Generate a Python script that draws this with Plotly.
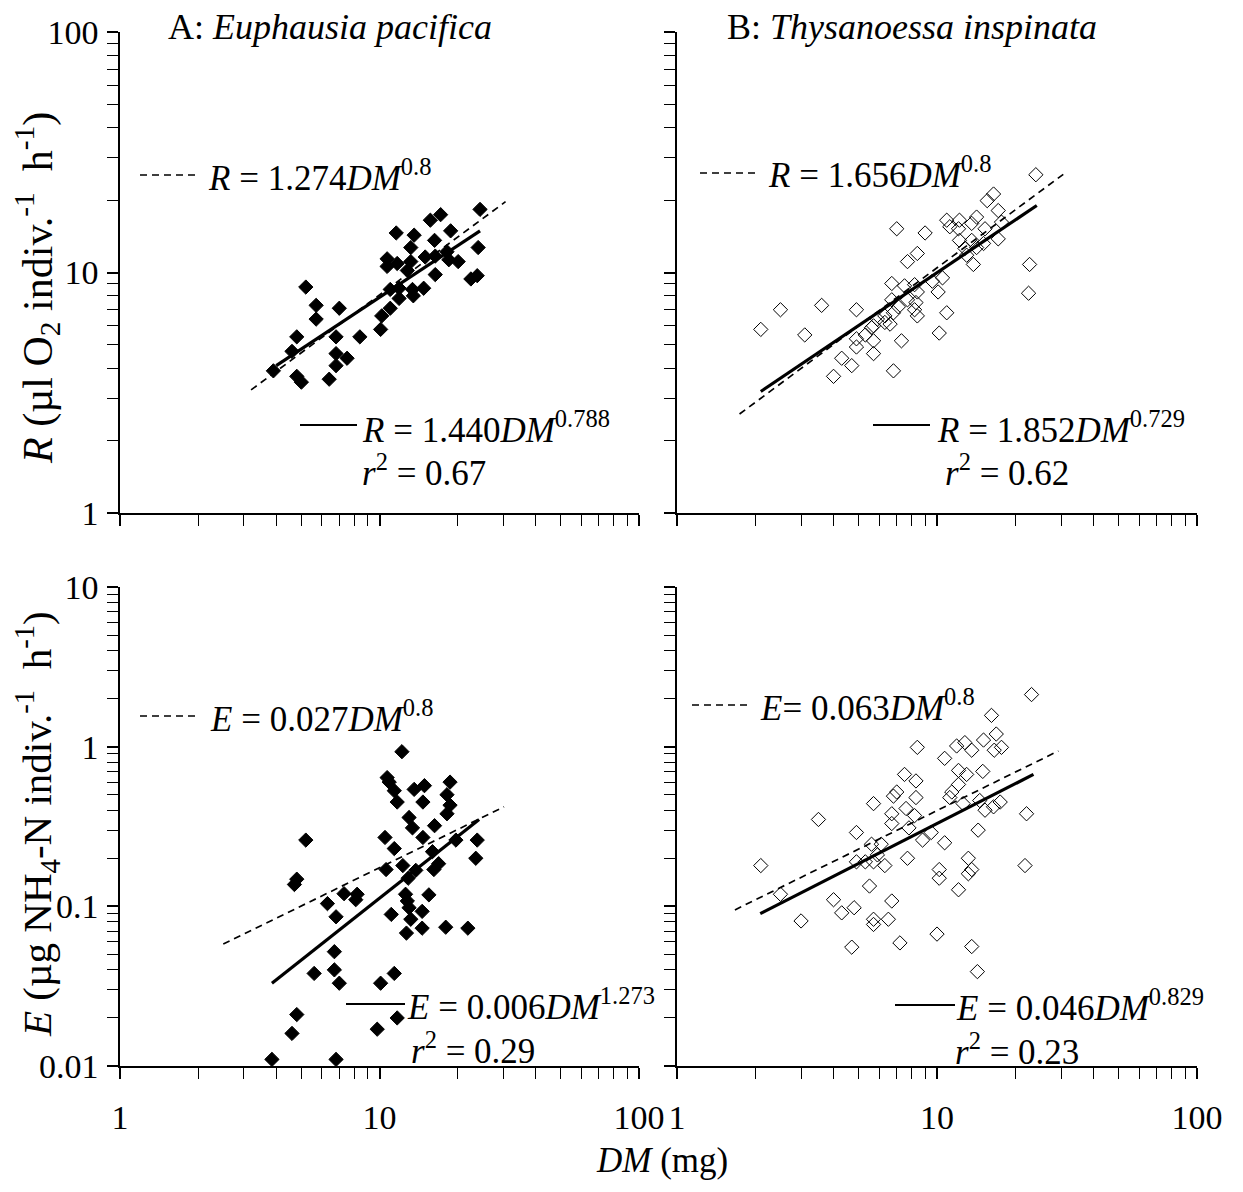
import plotly.graph_objects as go

# the page adds an 8px body margin, so the figure is 16px smaller than the window
PAGE_W, PAGE_H, OFF = 1243, 1192, 8
W, H = PAGE_W - 2 * OFF, PAGE_H - 2 * OFF

# --- data ---
# A: Euphausia pacifica, respiration
ep_r_dm = [24.4, 17.2, 15.7, 11.6, 13.6, 16.3, 18.8, 13.2, 24.0, 10.7, 10.7, 11.7, 13.2, 15.0, 16.4, 18.2,
           18.5, 20.1, 12.8, 16.4, 22.5, 23.8, 5.2, 11.0, 11.9, 13.4, 14.8, 13.5, 11.9, 5.7, 7.0, 11.0,
           10.2, 5.7, 10.1, 4.8, 6.8, 8.4, 4.6, 6.8, 7.5, 6.8, 3.9, 4.8, 5.0, 6.4]
ep_r = [18.3, 17.4, 16.5, 14.6, 14.3, 13.6, 14.9, 12.7, 12.7, 11.4, 10.6, 10.9, 11.1, 11.6, 11.7, 12.2,
        11.3, 11.1, 10.2, 9.8, 9.4, 9.7, 8.7, 8.5, 8.6, 8.5, 8.6, 8.0, 7.8, 7.3, 7.1, 7.1,
        6.6, 6.4, 5.8, 5.4, 5.4, 5.4, 4.7, 4.6, 4.4, 4.1, 3.9, 3.7, 3.5, 3.6]

# B: Thysanoessa inspinata, respiration
ti_r_dm = [24.0, 16.5, 15.6, 17.2, 17.7, 14.2, 12.2, 10.9, 11.2, 12.1, 13.6, 15.3, 7.0, 9.0, 17.2, 12.2,
           13.6, 15.1, 12.8, 14.2, 13.0, 8.4, 7.7, 13.8, 22.7, 22.5, 6.7, 7.5, 8.2, 9.6, 10.5, 10.1,
           8.4, 7.7, 8.3, 8.2, 8.4, 10.9, 7.1, 6.7, 6.8, 6.3, 5.9, 6.3, 5.7, 6.6, 5.6, 4.9,
           3.6, 2.5, 2.1, 3.1, 4.9, 5.3, 5.7, 4.9, 7.3, 10.2, 5.7, 4.3, 4.7, 4.0, 6.8]
ti_r = [25.5, 21.2, 19.9, 18.1, 16.2, 17.0, 16.5, 16.5, 15.5, 15.2, 16.0, 15.2, 15.2, 14.6, 13.8, 13.6,
        13.6, 13.2, 12.6, 12.7, 11.8, 12.0, 11.1, 10.8, 10.8, 8.2, 9.0, 8.8, 8.9, 9.2, 9.5, 8.3,
        8.3, 7.7, 7.5, 7.0, 6.6, 6.8, 7.2, 7.7, 6.8, 6.6, 6.4, 6.2, 6.0, 6.1, 5.9, 7.0,
        7.3, 7.0, 5.8, 5.5, 5.3, 5.5, 5.2, 4.9, 5.2, 5.6, 4.6, 4.4, 4.1, 3.7, 3.9]

# A: Euphausia pacifica, excretion
ep_e_dm = [12.2, 10.7, 10.9, 11.4, 13.6, 14.9, 18.7, 18.2, 11.7, 14.7, 18.7, 18.2, 13.0, 13.4, 16.3, 5.2,
           10.5, 14.7, 19.7, 23.8, 11.4, 16.0, 23.5, 12.3, 10.6, 16.9, 16.2, 13.8, 12.9, 4.8, 4.7, 7.3,
           8.2, 8.1, 6.3, 12.6, 15.5, 12.8, 6.8, 11.1, 13.0, 14.6, 13.2, 12.7, 14.6, 18.0, 21.9, 6.7,
           5.6, 6.7, 7.0, 11.4, 10.1, 4.8, 4.6, 9.8, 11.7, 3.85, 6.8]
ep_e = [0.93, 0.64, 0.60, 0.53, 0.54, 0.57, 0.60, 0.50, 0.45, 0.45, 0.43, 0.38, 0.36, 0.31, 0.32, 0.26,
        0.27, 0.27, 0.26, 0.26, 0.23, 0.22, 0.20, 0.18, 0.17, 0.185, 0.17, 0.168, 0.15, 0.148, 0.137, 0.12,
        0.119, 0.11, 0.104, 0.119, 0.118, 0.108, 0.086, 0.089, 0.098, 0.093, 0.083, 0.068, 0.073, 0.074, 0.073, 0.052,
        0.038, 0.040, 0.033, 0.038, 0.033, 0.021, 0.016, 0.017, 0.020, 0.011, 0.011]

# B: Thysanoessa inspinata, excretion
ti_e_dm = [23.1, 16.2, 16.9, 15.1, 11.9, 12.8, 13.6, 16.6, 17.7, 8.4, 10.7, 12.1, 13.0, 15.0, 7.5, 8.3,
           12.1, 11.4, 11.2, 7.0, 6.8, 8.3, 5.7, 12.6, 14.6, 17.5, 16.5, 15.3, 7.6, 6.7, 8.2, 6.7,
           7.8, 22.1, 3.5, 14.4, 9.5, 8.8, 10.7, 4.9, 5.6, 6.1, 5.9, 4.9, 5.3, 5.7, 6.3, 7.7,
           13.2, 13.6, 13.2, 21.8, 2.1, 10.2, 10.2, 5.5, 12.1, 2.5, 4.0, 4.3, 4.8, 6.7, 3.0,
           5.7, 5.7, 6.5, 4.7, 7.2, 10.0, 13.6, 14.3]
ti_e = [2.12, 1.57, 1.20, 1.10, 1.01, 1.06, 0.95, 0.95, 0.99, 0.99, 0.845, 0.71, 0.67, 0.70, 0.67, 0.61,
        0.58, 0.52, 0.48, 0.52, 0.49, 0.48, 0.44, 0.44, 0.46, 0.45, 0.42, 0.40, 0.41, 0.38, 0.37, 0.33,
        0.31, 0.38, 0.35, 0.30, 0.29, 0.26, 0.25, 0.29, 0.245, 0.245, 0.21, 0.19, 0.19, 0.19, 0.18, 0.20,
        0.20, 0.17, 0.16, 0.18, 0.18, 0.17, 0.15, 0.134, 0.127, 0.119, 0.11, 0.091, 0.098, 0.108, 0.081,
        0.083, 0.077, 0.083, 0.0555, 0.059, 0.067, 0.056, 0.039]

# fitted lines (end points as drawn): dashed = common slope 0.8, solid = own fit
ep_r_dash_x, ep_r_dash_y = [3.2, 30.6], [3.25, 19.7]
ep_r_fit_x, ep_r_fit_y = [4.0, 24.4], [4.1, 14.9]
ti_r_dash_x, ti_r_dash_y = [1.74, 30.6], [2.58, 25.6]
ti_r_fit_x, ti_r_fit_y = [2.1, 24.2], [3.2, 19.0]
ep_e_dash_x, ep_e_dash_y = [2.5, 30.2], [0.058, 0.42]
ep_e_fit_x, ep_e_fit_y = [3.85, 24.2], [0.033, 0.35]
ti_e_dash_x, ti_e_dash_y = [1.67, 29.3], [0.095, 0.94]
ti_e_fit_x, ti_e_fit_y = [2.09, 23.5], [0.09, 0.67]

FONT = "Liberation Serif"


def px(x):
    # page pixel -> paper fraction
    return (x - OFF) / W


def py(y):
    return 1 - (y - OFF) / H


fig = go.Figure()

panels = [
    ("x", "y", ep_r_dm, ep_r, "diamond", ep_r_dash_x, ep_r_dash_y, ep_r_fit_x, ep_r_fit_y),
    ("x2", "y2", ti_r_dm, ti_r, "diamond-open", ti_r_dash_x, ti_r_dash_y, ti_r_fit_x, ti_r_fit_y),
    ("x3", "y3", ep_e_dm, ep_e, "diamond", ep_e_dash_x, ep_e_dash_y, ep_e_fit_x, ep_e_fit_y),
    ("x4", "y4", ti_e_dm, ti_e, "diamond-open", ti_e_dash_x, ti_e_dash_y, ti_e_fit_x, ti_e_fit_y),
]

for xa, ya, dm, val, sym, dx, dy, fx, fy in panels:
    fig.add_trace(go.Scatter(x=dx, y=dy, mode="lines", xaxis=xa, yaxis=ya,
                             line=dict(color="black", width=1.7, dash="7px,5px")))
    fig.add_trace(go.Scatter(x=dm, y=val, mode="markers", xaxis=xa, yaxis=ya,
                             marker=dict(symbol=sym, size=11, color="black",
                                         line=dict(color="black", width=1))))
    fig.add_trace(go.Scatter(x=fx, y=fy, mode="lines", xaxis=xa, yaxis=ya,
                             line=dict(color="black", width=3.2)))

minor_vals = [2, 3, 4, 5, 6, 7, 8, 9, 20, 30, 40, 50, 60, 70, 80, 90]
minor_small = [0.02, 0.03, 0.04, 0.05, 0.06, 0.07, 0.08, 0.09,
               0.2, 0.3, 0.4, 0.5, 0.6, 0.7, 0.8, 0.9] + minor_vals[:8]


def axis(domain, anchor, rng, tickvals, minor, labels, **kw):
    return dict(type="log", domain=domain, anchor=anchor, range=rng,
                showline=True, linecolor="black", linewidth=1.5, mirror=False,
                showgrid=False, zeroline=False, automargin=False,
                ticks="outside", ticklen=11, tickwidth=1.5, tickcolor="black",
                tickvals=tickvals, ticktext=[str(v) for v in tickvals],
                showticklabels=labels,
                tickfont=dict(family=FONT, size=34, color="black"),
                minor=dict(tickvals=minor, ticks="outside", ticklen=11, tickwidth=1.2,
                           tickcolor="black", showgrid=False),
                **kw)


xl = [px(120), px(639)]
xr = [px(677), px(1197)]
yt = [py(513), py(32)]
yb = [py(1066), py(587)]

fig.update_layout(
    width=W, height=H, showlegend=False,
    paper_bgcolor="white", plot_bgcolor="white",
    margin=dict(l=0, r=0, t=0, b=0, pad=0, autoexpand=False),
    xaxis=axis(xl, "y", [0, 2], [1, 10, 100], minor_vals, False),
    yaxis=axis(yt, "x", [0, 2], [1, 10, 100], minor_vals, True, ticklabelstandoff=2),
    xaxis2=axis(xr, "y2", [0, 2], [1, 10, 100], minor_vals, False),
    yaxis2=axis(yt, "x2", [0, 2], [1, 10, 100], minor_vals, False),
    xaxis3=axis(xl, "y3", [0, 2], [1, 10, 100], minor_vals, True, ticklabelstandoff=9),
    yaxis3=axis(yb, "x3", [-2, 1], [0.01, 0.1, 1, 10], minor_small, True, ticklabelstandoff=2),
    xaxis4=axis(xr, "y4", [0, 2], [1, 10, 100], minor_vals, True, ticklabelstandoff=9),
    yaxis4=axis(yb, "x4", [-2, 1], [0.01, 0.1, 1, 10], minor_small, False),
)


def text(x, y, s, xanchor="left", angle=0, size=35):
    fig.add_annotation(x=px(x), y=py(y), xref="paper", yref="paper", text=s, showarrow=False,
                       xanchor=xanchor, yanchor="middle", textangle=angle,
                       font=dict(family=FONT, size=size, color="black"))


def key(x0, x1, y, dashed):
    fig.add_shape(type="line", xref="paper", yref="paper", x0=px(x0), x1=px(x1), y0=py(y), y1=py(y),
                  line=dict(color="black", width=1.7 if dashed else 2, dash="7px,5px" if dashed else "solid"))


# panel titles
text(330, 27, "A: <i>Euphausia pacifica</i>", "center", size=36)
text(912, 27, "B: <i>Thysanoessa inspinata</i>", "center", size=36)

# equations
key(140, 200, 175, True)
text(206, 175, "<i>R</i> = 1.274<i>DM</i><sup>0.8</sup>")
key(300, 357, 425, False)
text(360, 427, "<i>R</i> = 1.440<i>DM</i><sup>0.788</sup>")
text(360, 471, "<i>r</i><sup>2</sup> = 0.67")

key(700, 760, 173, True)
text(766, 173, "<i>R</i> = 1.656<i>DM</i><sup>0.8</sup>")
key(873, 930, 425, False)
text(935, 427, "<i>R</i> = 1.852<i>DM</i><sup>0.729</sup>")
text(943, 471, "<i>r</i><sup>2</sup> = 0.62")

key(140, 200, 716, True)
text(208, 716, "<i>E</i> = 0.027<i>DM</i><sup>0.8</sup>")
key(346, 405, 1004, False)
text(405, 1004, "<i>E</i> = 0.006<i>DM</i><sup>1.273</sup>")
text(409, 1048, "<i>r</i><sup>2</sup> = 0.29")

key(692, 748, 705, True)
text(758, 705, "<i>E</i>= 0.063<i>DM</i><sup>0.8</sup>")
key(895, 955, 1005, False)
text(954, 1005, "<i>E</i> = 0.046<i>DM</i><sup>0.829</sup>")
text(953, 1049, "<i>r</i><sup>2</sup> = 0.23")

# axis titles
text(37, 288, "<i>R</i> (\u00b5l O<sub>2</sub> indiv.<sup>-1</sup> \u00a0h<sup>-1</sup>)", "center", -90, 42)
text(37, 824, "<i>E</i> (\u00b5g NH<sub>4</sub>-N indiv.<sup>-1</sup> \u00a0h<sup>-1</sup>)", "center", -90, 41)
text(662, 1160, "<i>DM</i> (mg)", "center", size=35)

fig.write_html("out.html")
